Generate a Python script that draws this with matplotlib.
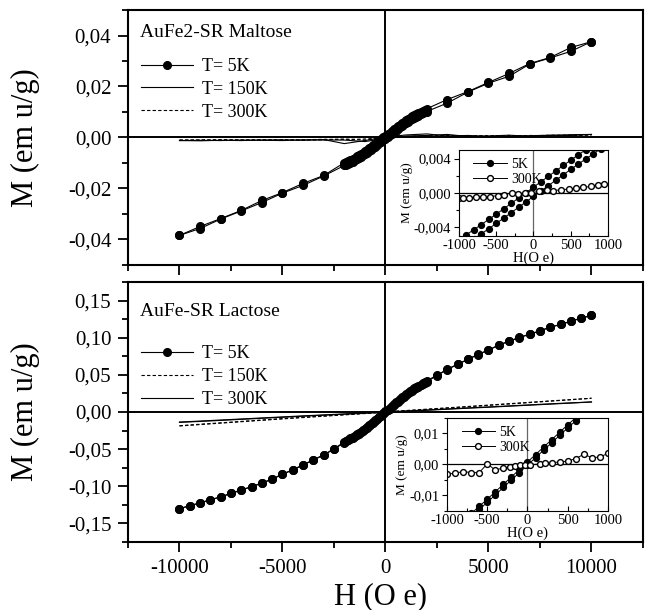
import matplotlib
matplotlib.use('Agg')
import matplotlib.pyplot as plt
from matplotlib.lines import Line2D
from matplotlib.ticker import MultipleLocator, FuncFormatter

plt.rcParams['font.family'] = ['Liberation Serif', 'DejaVu Serif']
plt.rcParams['axes.unicode_minus'] = False

# ---------------- AuFe2-SR Maltose ----------------
# field values (Oe) for the 5K loop
maltose_H = [-10000, -9000, -8000, -7000, -6000, -5000, -4000, -3000,
             -2000, -1900, -1800, -1700, -1600, -1500, -1400, -1300, -1200, -1100,
             -1000, -900, -800, -700, -600, -500, -400, -300, -200, -100, 0,
             100, 200, 300, 400, 500, 600, 700, 800, 900, 1000,
             1100, 1200, 1300, 1400, 1500, 1600, 1700, 1800, 1900, 2000,
             3000, 4000, 5000, 6000, 7000, 8000, 9000, 10000]
# descending branch (+H -> -H)
maltose_5K_desc = [-0.0384, -0.0349, -0.0318, -0.0286, -0.0247, -0.0216, -0.0180, -0.0149,
                   -0.00990, -0.00954, -0.00916, -0.00876, -0.00834, -0.00790, -0.00744, -0.00696, -0.00646, -0.00594,
                   -0.00540, -0.00484, -0.00426, -0.00367, -0.00307, -0.00246, -0.00184, -0.00121, -0.00058, 0.00005, 0.00068,
                   0.00131, 0.00194, 0.00257, 0.00320, 0.00382, 0.00443, 0.00503, 0.00562, 0.00620, 0.00676,
                   0.00730, 0.00782, 0.00832, 0.00880, 0.00926, 0.00970, 0.01012, 0.01052, 0.01090, 0.01126,
                   0.0149, 0.0180, 0.0216, 0.0251, 0.0290, 0.0314, 0.0353, 0.0376]
# ascending branch (-H -> +H)
maltose_5K_asc = [-0.0384, -0.0357, -0.0320, -0.0288, -0.0255, -0.0218, -0.0188, -0.0151,
                  -0.01098, -0.01062, -0.01024, -0.00984, -0.00942, -0.00898, -0.00852, -0.00804, -0.00754, -0.00702,
                  -0.00648, -0.00592, -0.00534, -0.00475, -0.00415, -0.00354, -0.00292, -0.00229, -0.00166, -0.00103, -0.00040,
                  0.00023, 0.00086, 0.00149, 0.00212, 0.00274, 0.00335, 0.00395, 0.00454, 0.00512, 0.00568,
                  0.00622, 0.00674, 0.00724, 0.00772, 0.00818, 0.00862, 0.00904, 0.00944, 0.00982, 0.01018,
                  0.0135, 0.0178, 0.0213, 0.0240, 0.0288, 0.0312, 0.0338, 0.0376]

# 150K / 300K loops, coarse field steps
coarse_H = [-10000, -9000, -8000, -7000, -6000, -5000, -4000, -3000, -2000, -1000, 0,
            1000, 2000, 3000, 4000, 5000, 6000, 7000, 8000, 9000, 10000]
maltose_150K_up = [-0.0012, -0.0013, -0.0011, -0.0012, -0.0010, -0.0009, -0.0011, -0.0008, -0.0024, -0.0012, 0.0002,
                   0.0010, 0.0014, 0.0006, 0.0008, 0.0004, 0.0005, 0.0007, 0.0009, 0.0008, 0.0012]
maltose_150K_dn = [-0.0012, -0.0011, -0.0012, -0.0010, -0.0011, -0.0012, -0.0009, -0.0010, -0.0010, -0.0016, -0.0004,
                   0.0006, 0.0008, 0.0012, 0.0004, 0.0006, 0.0009, 0.0005, 0.0008, 0.0011, 0.0012]
maltose_300K_up = [-0.0010, -0.0009, -0.0010, -0.0011, -0.0008, -0.0010, -0.0009, -0.0007, -0.0008, -0.0006, 0.0000,
                   0.0004, 0.0006, 0.0008, 0.0005, 0.0007, 0.0006, 0.0008, 0.0007, 0.0009, 0.0010]
maltose_300K_dn = [-0.0010, -0.0011, -0.0008, -0.0009, -0.0010, -0.0008, -0.0010, -0.0009, -0.0006, -0.0010, -0.0002,
                   0.0002, 0.0005, 0.0006, 0.0007, 0.0005, 0.0008, 0.0006, 0.0009, 0.0008, 0.0010]

# low field detail at 300K (inset)
maltose_inset_H = [-1000, -950, -860, -770, -680, -580, -480, -400, -290, -210, -120, -30,
                   70, 180, 260, 370, 480, 570, 670, 770, 860, 940]
maltose_inset_300K = [-0.00060, -0.00057, -0.00057, -0.00042, -0.00050, -0.00042, -0.00030, -0.00020, 0.00000,
                      -0.00010, 0.00000, 0.00000, 0.00020, 0.00034, 0.00027, 0.00038, 0.00046, 0.00053,
                      0.00065, 0.00076, 0.00095, 0.00110]

# ---------------- AuFe-SR Lactose ----------------
lactose_H = [-10000, -9500, -9000, -8500, -8000, -7500, -7000, -6500, -6000, -5500, -5000, -4500, -4000, -3500, -3000, -2500,
             -2000, -1900, -1800, -1700, -1600, -1500, -1400, -1300, -1200, -1100,
             -1000, -900, -800, -700, -600, -500, -400, -300, -200, -100, 0,
             100, 200, 300, 400, 500, 600, 700, 800, 900, 1000,
             1100, 1200, 1300, 1400, 1500, 1600, 1700, 1800, 1900, 2000,
             2500, 3000, 3500, 4000, 4500, 5000, 5500, 6000, 6500, 7000, 7500, 8000, 8500, 9000, 9500, 10000]
lactose_5K_desc = [-0.1303, -0.1260, -0.1223, -0.1180, -0.1143, -0.1094, -0.1049, -0.1004, -0.0955, -0.0902, -0.0835, -0.0777, -0.0710, -0.0643, -0.0576, -0.0495,
                   -0.0403, -0.0387, -0.0371, -0.0354, -0.0337, -0.0319, -0.0301, -0.0282, -0.0263, -0.0243,
                   -0.0223, -0.0202, -0.0180, -0.0158, -0.0135, -0.0112, -0.0088, -0.0064, -0.0040, -0.0016, 0.0008,
                   0.0032, 0.0056, 0.0080, 0.0104, 0.0128, 0.0151, 0.0174, 0.0196, 0.0218, 0.0239,
                   0.0259, 0.0279, 0.0298, 0.0317, 0.0335, 0.0353, 0.0370, 0.0387, 0.0403, 0.0419,
                   0.0495, 0.0576, 0.0643, 0.0710, 0.0777, 0.0835, 0.0902, 0.0955, 0.1004, 0.1049, 0.1094, 0.1143, 0.1180, 0.1223, 0.1265, 0.1300]
lactose_5K_asc = [-0.1303, -0.1262, -0.1225, -0.1182, -0.1145, -0.1097, -0.1052, -0.1007, -0.0958, -0.0905, -0.0839, -0.0781, -0.0714, -0.0647, -0.0580, -0.0500,
                  -0.0413, -0.0397, -0.0381, -0.0364, -0.0347, -0.0329, -0.0311, -0.0292, -0.0273, -0.0253,
                  -0.0233, -0.0212, -0.0190, -0.0168, -0.0145, -0.0122, -0.0098, -0.0074, -0.0050, -0.0026, -0.0002,
                  0.0022, 0.0046, 0.0070, 0.0094, 0.0118, 0.0141, 0.0164, 0.0186, 0.0208, 0.0229,
                  0.0249, 0.0269, 0.0288, 0.0307, 0.0325, 0.0343, 0.0360, 0.0377, 0.0393, 0.0409,
                  0.0491, 0.0572, 0.0640, 0.0707, 0.0774, 0.0832, 0.0899, 0.0952, 0.1001, 0.1046, 0.1091, 0.1141, 0.1178, 0.1221, 0.1263, 0.1300]

lactose_150K_up = [-0.0188, -0.0169, -0.0150, -0.0131, -0.0112, -0.0093, -0.0075, -0.0057, -0.0039, -0.0021, -0.0003,
                   0.0016, 0.0034, 0.0052, 0.0070, 0.0089, 0.0108, 0.0127, 0.0146, 0.0165, 0.0185]
lactose_150K_dn = [-0.0185, -0.0165, -0.0146, -0.0127, -0.0108, -0.0089, -0.0071, -0.0053, -0.0035, -0.0017, 0.0002,
                   0.0020, 0.0038, 0.0056, 0.0074, 0.0093, 0.0112, 0.0130, 0.0149, 0.0167, 0.0185]
lactose_300K_up = [-0.0140, -0.0127, -0.0113, -0.0099, -0.0085, -0.0071, -0.0057, -0.0043, -0.0030, -0.0017, -0.0004,
                   0.0010, 0.0023, 0.0037, 0.0051, 0.0064, 0.0078, 0.0092, 0.0106, 0.0120, 0.0135]
lactose_300K_dn = [-0.0135, -0.0122, -0.0108, -0.0094, -0.0080, -0.0066, -0.0052, -0.0039, -0.0026, -0.0013, 0.0001,
                   0.0014, 0.0027, 0.0041, 0.0055, 0.0068, 0.0082, 0.0096, 0.0110, 0.0123, 0.0135]

lactose_inset_H = [-1000, -900, -800, -700, -600, -500, -400, -300, -220, -150, -90, -30,
                   30, 160, 220, 300, 400, 500, 600, 700, 800, 900, 1000]
lactose_inset_300K = [-0.0031, -0.0028, -0.0023, -0.0026, -0.0026, 0.0002, -0.0018, -0.0011, -0.0009, -0.0006,
                      -0.0003, -0.0003, -0.0001, 0.0002, 0.0006, 0.0006, 0.0008, 0.0011, 0.0019, 0.0033,
                      0.0022, 0.0024, 0.0036]


def comma_fmt(decimals):
    def fmt(v, pos):
        if abs(v) < 1e-12:
            v = 0.0
        return f"{v:.{decimals}f}".replace('.', ',')
    return FuncFormatter(fmt)


def style_main(ax, ylim, ymajor, yminor, decimals, xlabels):
    ax.set_xlim(-12500, 12500)
    ax.set_ylim(*ylim)
    ax.xaxis.set_major_locator(MultipleLocator(5000))
    ax.xaxis.set_minor_locator(MultipleLocator(2500))
    ax.yaxis.set_major_locator(MultipleLocator(ymajor))
    ax.yaxis.set_minor_locator(MultipleLocator(yminor))
    ax.yaxis.set_major_formatter(comma_fmt(decimals))
    ax.tick_params(which='major', direction='out', length=7, width=1.3, labelsize=15, pad=5,
                   top=False, right=False, labelbottom=xlabels)
    ax.tick_params(which='minor', direction='out', length=4.5, width=1.3, top=False, right=False)
    for s in ax.spines.values():
        s.set_linewidth(1.5)
    ax.axhline(0, color='k', lw=1.4, zorder=1)
    ax.axvline(0, color='k', lw=1.4, zorder=1)
    ax.text(-0.2, 0.5, 'M (em u/g)', rotation=90, fontsize=22, ha='center', va='center',
            transform=ax.transAxes)


def style_inset(ax, ylim, ymajor, yminor, decimals):
    ax.set_xlim(-1000, 1000)
    ax.set_ylim(*ylim)
    ax.xaxis.set_major_locator(MultipleLocator(500))
    ax.xaxis.set_minor_locator(MultipleLocator(250))
    ax.yaxis.set_major_locator(MultipleLocator(ymajor))
    ax.yaxis.set_minor_locator(MultipleLocator(yminor))
    ax.yaxis.set_major_formatter(comma_fmt(decimals))
    ax.tick_params(axis='x', which='both', direction='in', labelsize=10.5, pad=2, top=False)
    ax.tick_params(axis='y', which='both', direction='out', labelsize=10.5, pad=2, right=False)
    ax.tick_params(which='major', length=3.5, width=0.8)
    ax.tick_params(which='minor', length=2, width=0.8)
    for s in ax.spines.values():
        s.set_linewidth(0.8)
    ax.axhline(0, color='k', lw=0.9, zorder=1)
    ax.axvline(0, color='0.4', lw=0.9, zorder=1)
    ax.set_ylabel('M (em u/g)', fontsize=9.5, labelpad=1)
    ax.set_xlabel('H(O e)', fontsize=10.5, labelpad=0)


fig = plt.figure(figsize=(6.47, 6.10), dpi=100)
ax1 = fig.add_axes([0.1978, 0.5656, 0.796, 0.418])
ax2 = fig.add_axes([0.1978, 0.1115, 0.796, 0.4262])

dot = dict(color='k', marker='o', ms=5.5, lw=0.8, mfc='k', mec='k')
leg_kw = dict(loc='upper left', frameon=False, fontsize=13, numpoints=1, handlelength=2.9,
              handletextpad=0.5, labelspacing=0.33, borderaxespad=0.3)

# top panel: maltose
ax1.plot(coarse_H, maltose_150K_up, color='k', lw=0.8)
ax1.plot(coarse_H, maltose_150K_dn, color='k', lw=0.8)
ax1.plot(coarse_H, maltose_300K_up, color='k', lw=0.8, ls=(0, (3, 2)))
ax1.plot(coarse_H, maltose_300K_dn, color='k', lw=0.8, ls=(0, (3, 2)))
ax1.plot(maltose_H, maltose_5K_desc, **dot)
ax1.plot(maltose_H, maltose_5K_asc, **dot)
style_main(ax1, (-0.05, 0.05), 0.02, 0.01, 2, False)
ax1.text(0.023, 0.91, 'AuFe2-SR Maltose', fontsize=14, transform=ax1.transAxes, va='center')
h1 = [Line2D([], [], **dot),
      Line2D([], [], color='k', lw=0.8),
      Line2D([], [], color='k', lw=0.8, ls=(0, (3, 2)))]
ax1.legend(h1, ['T= 5K', 'T= 150K', 'T= 300K'], bbox_to_anchor=(0.0, 0.862), **leg_kw)

# bottom panel: lactose
ax2.plot(coarse_H, lactose_300K_up, color='k', lw=0.8)
ax2.plot(coarse_H, lactose_300K_dn, color='k', lw=0.8)
ax2.plot(coarse_H, lactose_150K_up, color='k', lw=0.8, ls=(0, (3, 2)))
ax2.plot(coarse_H, lactose_150K_dn, color='k', lw=0.8, ls=(0, (3, 2)))
ax2.plot(lactose_H, lactose_5K_desc, **dot)
ax2.plot(lactose_H, lactose_5K_asc, **dot)
style_main(ax2, (-0.175, 0.175), 0.05, 0.025, 2, True)
ax2.text(0.023, 0.888, 'AuFe-SR Lactose', fontsize=14, transform=ax2.transAxes, va='center')
h2 = [Line2D([], [], **dot),
      Line2D([], [], color='k', lw=0.8, ls=(0, (3, 2))),
      Line2D([], [], color='k', lw=0.8)]
ax2.legend(h2, ['T= 5K', 'T= 150K', 'T= 300K'], bbox_to_anchor=(0.0, 0.805), **leg_kw)

fig.text(380 / 647, 1 - 597 / 610, 'H (O e)', fontsize=22, ha='center', va='center')

# insets: low-field detail
small_dot = dict(color='k', marker='o', ms=4.2, lw=0.7, mfc='k', mec='k')
open_dot = dict(color='k', marker='o', ms=4.2, lw=0.7, mfc='white', mec='k')
inset_leg_kw = dict(loc='upper left', bbox_to_anchor=(0.04, 1.0), frameon=False, fontsize=10,
                    numpoints=1, handlelength=2.4, handletextpad=0.3, labelspacing=0.1,
                    borderaxespad=0.2)

in1 = fig.add_axes([0.7094, 0.6131, 0.2303, 0.141])
in1.plot(maltose_H, maltose_5K_desc, **small_dot)
in1.plot(maltose_H, maltose_5K_asc, **small_dot)
in1.plot(maltose_inset_H, maltose_inset_300K, **open_dot)
style_inset(in1, (-0.005, 0.005), 0.004, 0.002, 3)
in1.legend([Line2D([], [], **small_dot), Line2D([], [], **open_dot)], ['5K', '300K'], **inset_leg_kw)

in2 = fig.add_axes([0.6909, 0.1623, 0.2488, 0.1525])
in2.plot(lactose_H, lactose_5K_desc, **small_dot)
in2.plot(lactose_H, lactose_5K_asc, **small_dot)
in2.plot(lactose_inset_H, lactose_inset_300K, **open_dot)
style_inset(in2, (-0.015, 0.015), 0.01, 0.005, 2)
in2.legend([Line2D([], [], **small_dot), Line2D([], [], **open_dot)], ['5K', '300K'], **inset_leg_kw)

fig.savefig('out.png', dpi=100)
